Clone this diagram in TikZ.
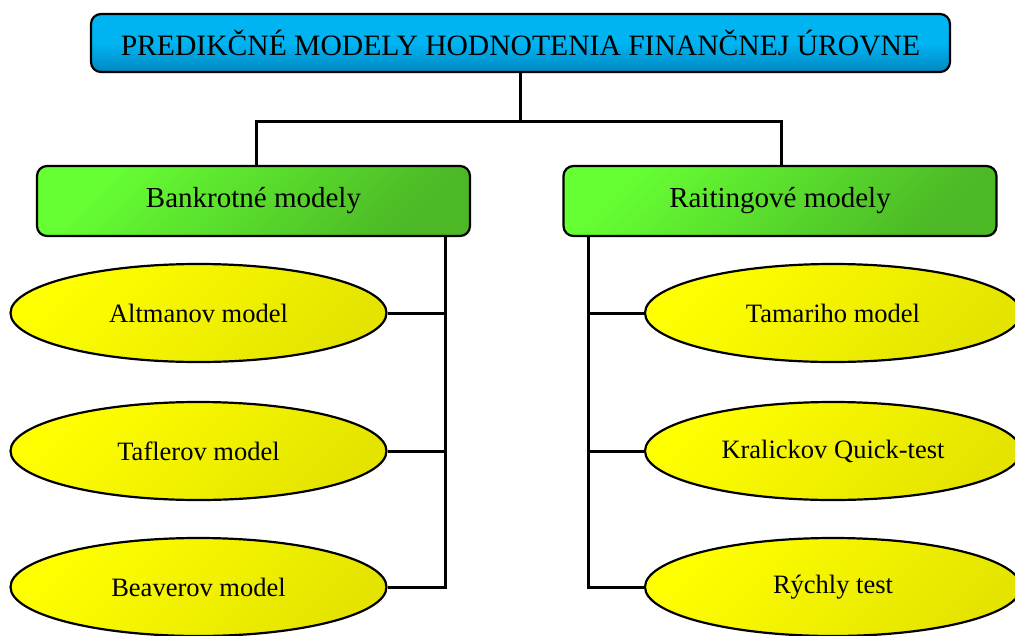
\documentclass[tikz,border=0pt]{standalone}
\usepackage{fontspec}
\setmainfont{Liberation Serif}
\usetikzlibrary{shapes.geometric}
\definecolor{blueA}{HTML}{00B4F2}
\definecolor{blueB}{HTML}{0088C0}
\definecolor{greenA}{HTML}{66FF33}
\definecolor{greenB}{HTML}{4CB826}
\definecolor{yelA}{HTML}{FFFF00}
\definecolor{yelB}{HTML}{E4E400}
\tikzset{
  topbox/.style={draw=black, line width=2.2pt, rounded corners=10pt, minimum width=859pt, minimum height=58pt,
    top color=blueA, bottom color=blueB, middle color=blueA, font=\fontsize{29.6}{33}\selectfont},
  greenbox/.style={draw=black, line width=2.2pt, rounded corners=10pt, minimum width=433pt, minimum height=70pt,
    shading=axis, left color=greenA, middle color=greenA, right color=greenB, shading angle=45, font=\fontsize{29}{32}\selectfont},
  yellowell/.style={ellipse, draw=black, line width=2.2pt, minimum width=376pt, minimum height=98pt, inner sep=0pt,
    shading=axis, left color=yelA, middle color=yelA, right color=yelB, shading angle=45, font=\fontsize{26.5}{30}\selectfont},
  conn/.style={draw=black, line width=3pt},
}
\begin{document}
\begin{tikzpicture}[x=1pt,y=-1pt]
\useasboundingbox (0,0) rectangle (1015,635);
\node[topbox] (top) at (520.5,43) {PREDIKČNÉ MODELY HODNOTENIA FINANČNEJ ÚROVNE};
\node[greenbox] (bank) at (253.5,201) {Bankrotné modely};
\node[greenbox] (rait) at (780,201) {Raitingové modely};
\node[yellowell] (alt) at (198.5,313) {Altmanov model};
\node[yellowell] (taf) at (198.5,451) {Taflerov model};
\node[yellowell] (bea) at (198.5,587) {Beaverov model};
\node[yellowell] (tam) at (833,313) {Tamariho model};
\node[yellowell] (kra) at (833,451) {Kralickov Quick-test};
\node[yellowell] (ryc) at (833,587) {Rýchly test};
\coordinate (split) at (520.5,121);
\coordinate (lx) at (445,0);
\coordinate (rx) at (588,0);
\draw[conn] (top.south) -- (split);
\draw[conn] (bank.north -| 256,0) |- (split) -| (rait.north -| 781,0);
\draw[conn] (bank.south -| lx) -- (bea.east -| lx) -- (bea.east);
\draw[conn] (alt.east) -- (alt.east -| lx);
\draw[conn] (taf.east) -- (taf.east -| lx);
\draw[conn] (rait.south -| rx) -- (ryc.west -| rx) -- (ryc.west);
\draw[conn] (tam.west) -- (tam.west -| rx);
\draw[conn] (kra.west) -- (kra.west -| rx);
\end{tikzpicture}
\end{document}
